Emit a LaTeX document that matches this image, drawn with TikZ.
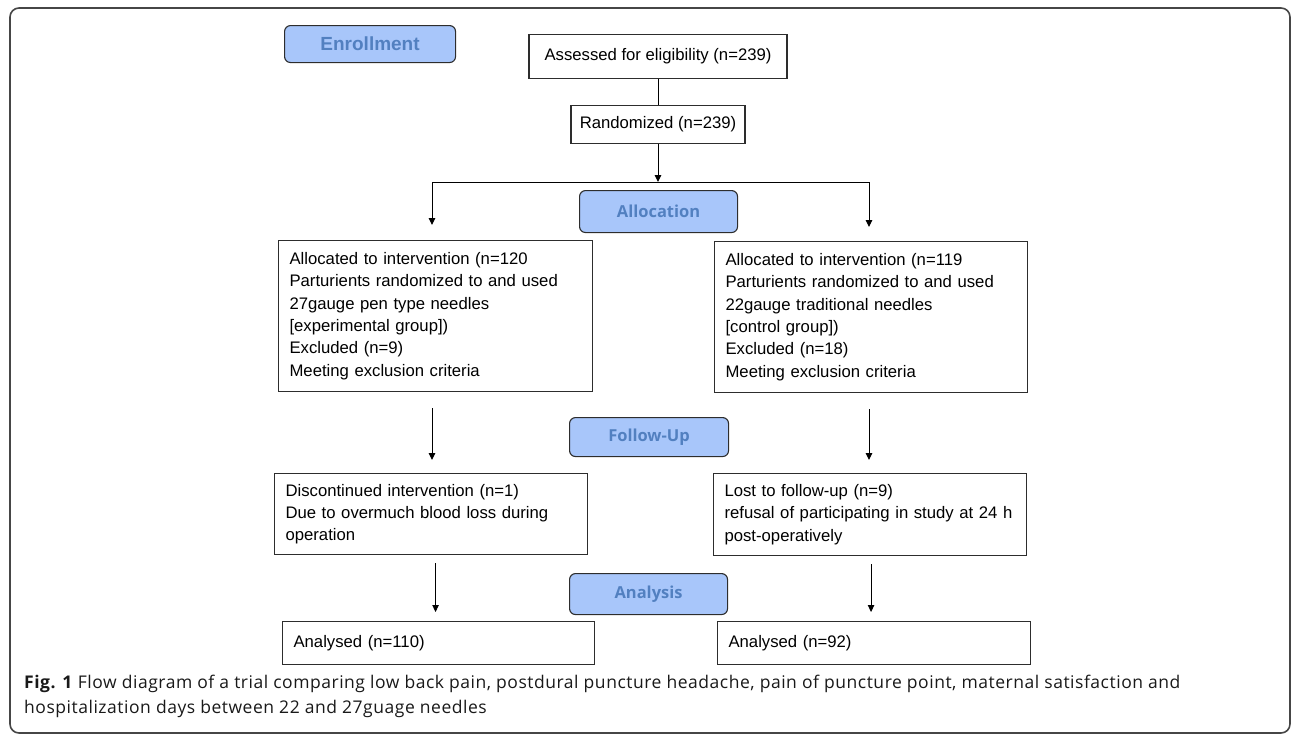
\documentclass[tikz,border=0pt]{standalone}
\usepackage{fontspec}
\setmainfont{Liberation Sans}
\newfontfamily\capfont{Open Sans}
\usetikzlibrary{arrows.meta,positioning}
\definecolor{phasefill}{RGB}{168,198,250}
\definecolor{phasetext}{RGB}{82,128,192}
\definecolor{boxline}{RGB}{45,45,45}
\definecolor{frameline}{RGB}{70,70,70}

\begin{document}
\begin{tikzpicture}[
    x=1pt, y=-1pt,
    flowbox/.style={rectangle, draw=boxline, line width=1.1pt, anchor=north west, align=left,
                 inner xsep=11pt, inner ysep=0pt, font=\fontsize{16.7}{22.3}\selectfont},
    phase/.style={rectangle, rounded corners=6pt, draw=boxline, line width=1.1pt, fill=phasefill,
                 text=phasetext, anchor=north west, inner sep=0pt, font=\capfont\bfseries\fontsize{16.5}{20}\selectfont},
    arr/.style={-{Triangle[length=7pt,width=6.5pt]}, line width=1pt},
    link/.style={line width=1pt}
]
\useasboundingbox (0,0) rectangle (1292,736);
\draw[frameline, line width=1.6pt, rounded corners=9pt] (10,8) rectangle (1290,733);

% phase labels
\node[phase, minimum width=171pt, minimum height=37pt, font=\bfseries\fontsize{19}{22}\selectfont] (enroll) at (284,25) {Enrollment};
\node[phase, minimum width=158pt, minimum height=42pt] (allocph) at (579,190) {Allocation};
\node[phase, minimum width=159pt, minimum height=39pt] (followph) at (569,417) {Follow-Up};
\node[phase, minimum width=158pt, minimum height=41pt] (analph) at (569,573) {Analysis};

% top of the flow
\node[flowbox, anchor=north, align=center, minimum width=258pt, minimum height=44pt] (assess) at (658,34) {Assessed for eligibility (n=239)};
\node[flowbox, anchor=north, align=center, inner xsep=8pt, minimum width=174pt, minimum height=38pt] (rand) at (658,105) {Randomized (n=239)};

% two arms
\node[flowbox, text width=292pt, minimum height=151pt] (alloc1) at (278,240)
  {Allocated to intervention (n=120\\Parturients randomized to and used\\27gauge pen type needles\\{[experimental group])}\\Excluded (n=9)\\Meeting exclusion criteria};
\node[flowbox, text width=291pt, minimum height=151pt] (alloc2) at (714,241)
  {Allocated to intervention (n=119\\Parturients randomized to and used\\22gauge traditional needles\\{[control group])}\\Excluded (n=18)\\Meeting exclusion criteria};
\node[flowbox, text width=291pt, minimum height=81pt] (lost1) at (274,473)
  {Discontinued intervention (n=1)\\Due to overmuch blood loss during\\operation};
\node[flowbox, text width=291pt, minimum height=82pt] (lost2) at (713,473)
  {Lost to follow-up (n=9)\\refusal of participating in study at 24 h\\post-operatively};
\node[flowbox, text width=290pt, minimum height=43pt] (anal1) at (282,621) {Analysed (n=110)};
\node[flowbox, text width=291pt, minimum height=43pt] (anal2) at (717,621) {Analysed (n=92)};

% caption
\node[anchor=base west, align=left, inner sep=0pt, text=black!90,
      font=\capfont\addfontfeatures{LetterSpace=3}\fontsize{17.5}{24.5}\selectfont] (caption) at (24,713)
  {\textbf{Fig. 1} Flow diagram of a trial comparing low back pain, postdural puncture headache, pain of puncture point, maternal satisfaction and\\hospitalization days between 22 and 27guage needles};

% connectors
\coordinate (split) at (658,182);
\coordinate (splitL) at (432,182);
\coordinate (splitR) at (869,182);
\draw[link] (assess) -- (rand);
\draw[arr] (rand) -- (split);
\draw[link] (splitL) -- (splitR);
\draw[arr, shorten >=15pt] (splitL) -- (splitL |- alloc1.north);
\draw[arr, shorten >=14pt] (splitR) -- (splitR |- alloc2.north);
\draw[arr, shorten <=16pt, shorten >=13pt] (alloc1.south -| splitL) -- (lost1.north -| splitL);
\draw[arr, shorten <=16pt, shorten >=13pt] (alloc2.south -| splitR) -- (lost2.north -| splitR);
\draw[arr, shorten <=8pt, shorten >=9pt] (lost1.south -| alloc1) -- (anal1.north -| alloc1);
\draw[arr, shorten <=8pt, shorten >=9pt] (lost2.south -| alloc2) -- (anal2.north -| alloc2);
\end{tikzpicture}
\end{document}
